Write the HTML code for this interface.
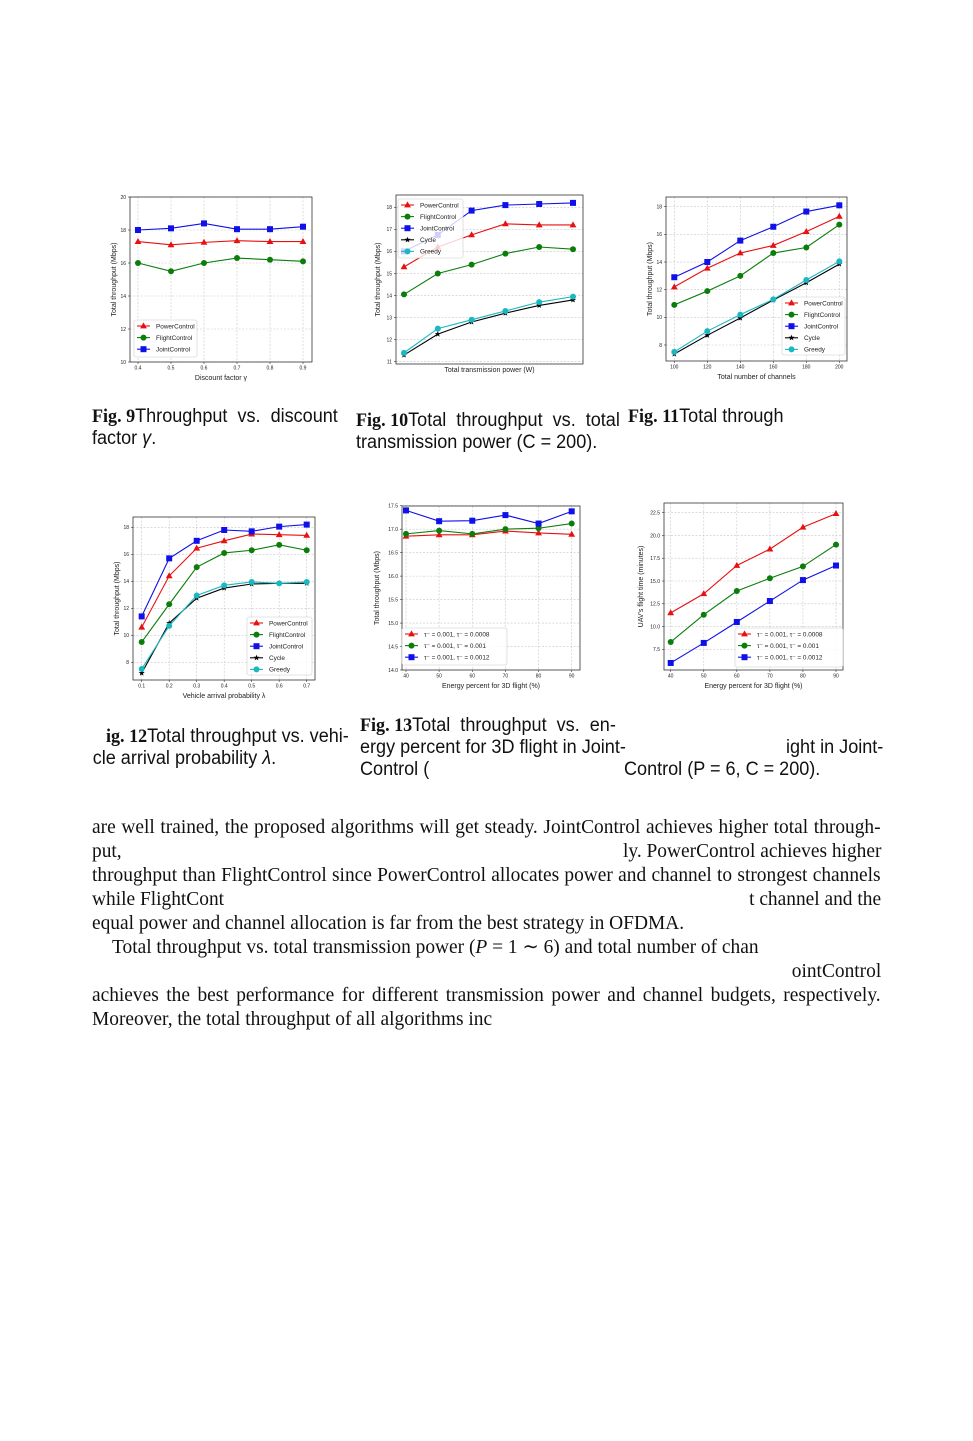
<!DOCTYPE html>
<html><head><meta charset="utf-8"><style>
body{margin:0;background:#fff;width:973px;height:1441px;position:relative;overflow:hidden}
.t{position:absolute;white-space:nowrap;font-family:"Liberation Serif",serif;font-size:20px;color:#111;line-height:24px;transform:scaleX(0.97);transform-origin:left}
.r{transform-origin:right}
.j{width:813px;text-align:justify;text-align-last:justify}
.c{position:absolute;white-space:nowrap;font-family:"Liberation Sans",sans-serif;font-size:19px;color:#111;line-height:22px;transform:scaleX(0.95);transform-origin:left}
.c b{font-family:"Liberation Serif",serif;font-weight:bold}
svg text{font-family:"Liberation Sans",sans-serif;fill:#222}
</style></head><body>
<svg id="figs" width="973" height="1441" style="position:absolute;left:0;top:0"></svg>

<div class="c" style="left:92px;top:406px"><b>Fig. 9</b>Throughput&nbsp; vs.&nbsp; discount<br>factor <i>γ</i>.</div>
<div class="c" style="left:356px;top:410px"><b>Fig. 10</b>Total&nbsp; throughput&nbsp; vs.&nbsp; total<br>transmission power (C = 200).</div>
<div class="c" style="left:628px;top:406px"><b>Fig. 11</b>Total through</div>
<div class="c" style="left:106px;top:726px"><b>ig. 12</b>Total throughput vs. vehi-<br><span style="margin-left:-14px">cle arrival probability <i>λ</i>.</span></div>
<div class="c" style="left:360px;top:715px"><b>Fig. 13</b>Total&nbsp; throughput&nbsp; vs.&nbsp; en-<br>ergy percent for 3D flight in Joint-<br>Control (</div>
<div class="c" style="left:786px;top:737px">ight in Joint-</div>
<div class="c" style="left:624px;top:759px">Control (P = 6, C = 200).</div>

<div class="t j" style="left:92px;top:815px">are well trained, the proposed algorithms will get steady. JointControl achieves higher total through-</div>
<div class="t" style="left:92px;top:839px">put,</div>
<div class="t r" style="right:92px;top:839px">ly. PowerControl achieves higher</div>
<div class="t j" style="left:92px;top:863px">throughput than FlightControl since PowerControl allocates power and channel to strongest channels</div>
<div class="t" style="left:92px;top:887px">while FlightCont</div>
<div class="t r" style="right:92px;top:887px">t channel and the</div>
<div class="t" style="left:92px;top:911px">equal power and channel allocation is far from the best strategy in OFDMA.</div>
<div class="t" style="left:112px;top:935px">Total throughput vs. total transmission power (<i>P</i> = 1 ∼ 6) and total number of chan</div>
<div class="t r" style="right:92px;top:959px">ointControl</div>
<div class="t j" style="left:92px;top:983px">achieves the best performance for different transmission power and channel budgets, respectively.</div>
<div class="t" style="left:92px;top:1007px">Moreover, the total throughput of all algorithms inc</div>

<script>
// ---- data ----
const algNames=["PowerControl","FlightControl","JointControl","Cycle","Greedy"];
const tauNames=["τ⁻ = 0.001, τ⁻ = 0.0008","τ⁻ = 0.001, τ⁻ = 0.001","τ⁻ = 0.001, τ⁻ = 0.0012"];
const f9X=[0.4,0.5,0.6,0.7,0.8,0.9];
const f9Power=[17.3,17.1,17.25,17.35,17.3,17.3];
const f9Flight=[16.0,15.5,16.0,16.3,16.2,16.1];
const f9Joint=[18.0,18.1,18.4,18.05,18.05,18.2];
const f9YTicks=[10,12,14,16,18,20];
const f10X=[1,2,3,4,5,6];
const f10Power=[15.3,16.2,16.75,17.25,17.2,17.2];
const f10Flight=[14.05,15.0,15.4,15.9,16.2,16.1];
const f10Joint=[16.0,16.75,17.85,18.1,18.15,18.2];
const f10Cycle=[11.3,12.25,12.8,13.2,13.55,13.8];
const f10Greedy=[11.4,12.5,12.9,13.3,13.7,13.95];
const f10YTicks=[11,12,13,14,15,16,17,18];
const f11X=[100,120,140,160,180,200];
const f11Power=[12.2,13.55,14.65,15.2,16.2,17.3];
const f11Flight=[10.9,11.9,13.0,14.65,15.05,16.7];
const f11Joint=[12.9,14.0,15.55,16.55,17.65,18.1];
const f11Cycle=[7.35,8.7,9.95,11.25,12.5,13.85];
const f11Greedy=[7.5,9.0,10.2,11.3,12.7,14.05];
const f11YTicks=[8,10,12,14,16,18];
const f12X=[0.1,0.2,0.3,0.4,0.5,0.6,0.7];
const f12Power=[10.6,14.4,16.45,17.0,17.5,17.45,17.4];
const f12Flight=[9.5,12.3,15.05,16.1,16.3,16.7,16.3];
const f12Joint=[11.4,15.7,17.0,17.8,17.7,18.05,18.2];
const f12Cycle=[7.2,10.9,12.75,13.5,13.8,13.85,13.85];
const f12Greedy=[7.5,10.7,12.95,13.7,13.95,13.85,13.95];
const f12YTicks=[8,10,12,14,16,18];
const f13X=[40,50,60,70,80,90];
const f13Red=[16.85,16.88,16.88,16.96,16.92,16.89];
const f13Green=[16.9,16.97,16.9,17.0,17.02,17.12];
const f13Blue=[17.4,17.17,17.18,17.3,17.12,17.38];
const f13YTicks=[14.0,14.5,15.0,15.5,16.0,16.5,17.0,17.5];
const f14X=[40,50,60,70,80,90];
const f14Red=[11.5,13.6,16.7,18.5,20.9,22.4];
const f14Green=[8.3,11.3,13.9,15.3,16.6,19.0];
const f14Blue=[6.0,8.2,10.5,12.8,15.1,16.7];
const f14YTicks=[7.5,10.0,12.5,15.0,17.5,20.0,22.5];

const NS="http://www.w3.org/2000/svg";
const svg=document.getElementById('figs');
function mk(tag,attrs,parent){const e=document.createElementNS(NS,tag);for(const k in attrs)e.setAttribute(k,attrs[k]);(parent||svg).appendChild(e);return e;}
const styles=[{c:"#e81010",m:"tri"},{c:"#0a7d0a",m:"circ"},{c:"#1010e8",m:"sq"},{c:"#000",m:"star"},{c:"#1ab8c0",m:"circ"}];
function marker(g,type,x,y,c){
  let e;
  if(type==="tri"){e=mk('polygon',{points:`${x},${y-3.6} ${x-3.4},${y+2.4} ${x+3.4},${y+2.4}`,fill:c},g);}
  else if(type==="circ"){e=mk('circle',{cx:x,cy:y,r:3,fill:c},g);}
  else if(type==="sq"){e=mk('rect',{x:x-3,y:y-3,width:6,height:6,fill:c},g);}
  else {let p=[];for(let i=0;i<10;i++){const r=i%2?1.3:3.2,a=-Math.PI/2+i*Math.PI/5;p.push((x+r*Math.cos(a)).toFixed(2)+","+(y+r*Math.sin(a)).toFixed(2));}e=mk('polygon',{points:p.join(' '),fill:c},g);}
  
  
}
function chart(o){
  const g=mk('g',{});
  
  
  const sx=v=>o.px0+(v-o.x0)/(o.x1-o.x0)*(o.px1-o.px0);
  const sy=v=>o.py0+(v-o.y0)/(o.y1-o.y0)*(o.py1-o.py0);
  o.yt.forEach(v=>{const y=sy(v);
    const l=mk('line',{x1:o.L,x2:o.R,y1:y,y2:y,stroke:"#c8c8c8","stroke-width":0.6,"stroke-dasharray":"2,1.5"},g);
    
    mk('line',{x1:o.L-2,x2:o.L,y1:y,y2:y,stroke:"#333","stroke-width":0.6},g);
    const t=mk('text',{x:o.L-4,y:y+1.8,"font-size":5,"text-anchor":"end"},g);t.textContent=o.ytf(v);
    });
  o.xs.forEach((v,i)=>{const x=sx(v);
    if(o.vgrid){const l=mk('line',{x1:x,x2:x,y1:o.T,y2:o.B,stroke:"#c8c8c8","stroke-width":0.6,"stroke-dasharray":"2,1.5"},g);
    }
    if(o.xtf){mk('line',{x1:x,x2:x,y1:o.B,y2:o.B+2,stroke:"#333","stroke-width":0.6},g);
    const t=mk('text',{x:x,y:o.B+7.5,"font-size":5,"text-anchor":"middle"},g);t.textContent=o.xtf(v);
    }});
  const fr=mk('rect',{x:o.L,y:o.T,width:o.R-o.L,height:o.B-o.T,fill:"none",stroke:"#333","stroke-width":0.8},g);
  
  o.series.forEach((s,k)=>{const st=styles[o.sty[k]];
    const pl=mk('polyline',{points:s.map((v,i)=>sx(o.xs[i])+","+sy(v)).join(' '),fill:"none",stroke:st.c,"stroke-width":1.1},g);
    
    s.forEach((v,i)=>marker(g,st.m,sx(o.xs[i]),sy(v),st.c));});
  const lg=mk('g',{},g);
  
  mk('rect',{x:o.lg[0],y:o.lg[1],width:o.lg[2],height:o.lg[3],rx:2,fill:"#fff","fill-opacity":0.8,stroke:"#ccc","stroke-width":0.6},lg);
  o.labels.forEach((lab,k)=>{const st=styles[o.sty[k]];const y=o.lg[1]+6+k*11.6;const x=o.lg[0]+3;
    mk('line',{x1:x,x2:x+13,y1:y,y2:y,stroke:st.c,"stroke-width":1.1},lg);
    marker(lg,st.m,x+6.5,y,st.c);
    const t=mk('text',{x:x+19,y:y+2.3,"font-size":6.4},lg);t.textContent=lab;
    });
  const xl=mk('text',{x:(o.L+o.R)/2,y:o.xly,"font-size":7,"text-anchor":"middle"},g);xl.textContent=o.xl;
  
  const yl=mk('text',{x:0,y:0,"font-size":7,"text-anchor":"middle",transform:`translate(${o.ylx},${(o.T+o.B)/2}) rotate(-90)`},g);yl.textContent=o.yl;
  
}
const f1=v=>v.toFixed(1), f0=v=>String(v);
chart({name:"chart-fig9",L:130,R:312,T:197,B:362,x0:0.4,x1:0.9,px0:138,px1:303,y0:10,y1:20,py0:362,py1:197,
  xs:f9X,yt:f9YTicks,ytf:f0,xtf:f1,vgrid:true,series:[f9Power,f9Flight,f9Joint],sty:[0,1,2],labels:algNames.slice(0,3),
  lg:[134,320,63,37],xl:"Discount factor γ",xly:380,yl:"Total throughput (Mbps)",ylx:116});
chart({name:"chart-fig10",L:396,R:583,T:195,B:364,x0:1,x1:6,px0:404,px1:573,y0:11,y1:18,py0:361.7,py1:207.3,
  xs:f10X,yt:f10YTicks,ytf:f0,xtf:null,vgrid:false,series:[f10Power,f10Flight,f10Joint,f10Cycle,f10Greedy],sty:[0,1,2,3,4],labels:algNames,
  lg:[398,199,65,59],xl:"Total transmission power (W)",xly:372,yl:"Total throughput (Mbps)",ylx:380});
chart({name:"chart-fig11",L:666,R:847,T:197,B:361,x0:100,x1:200,px0:674.3,px1:839.3,y0:8,y1:18,py0:345,py1:206.7,
  xs:f11X,yt:f11YTicks,ytf:f0,xtf:f0,vgrid:true,series:[f11Power,f11Flight,f11Joint,f11Cycle,f11Greedy],sty:[0,1,2,3,4],labels:algNames,
  lg:[782,297,63,58],xl:"Total number of channels",xly:379,yl:"Total throughput (Mbps)",ylx:652});
chart({name:"chart-fig12",L:133,R:315,T:517,B:680,x0:0.1,x1:0.7,px0:141.7,px1:306.7,y0:8,y1:18,py0:662.3,py1:527.3,
  xs:f12X,yt:f12YTicks,ytf:f0,xtf:f1,vgrid:true,series:[f12Power,f12Flight,f12Joint,f12Cycle,f12Greedy],sty:[0,1,2,3,4],labels:algNames,
  lg:[247,617,65,58],xl:"Vehicle arrival probability λ",xly:698,yl:"Total throughput (Mbps)",ylx:119});
chart({name:"chart-fig13",L:402,R:580,T:506,B:670,x0:40,x1:90,px0:406,px1:571.7,y0:14,y1:17.5,py0:670,py1:505.7,
  xs:f13X,yt:f13YTicks,ytf:f1,xtf:f0,vgrid:true,series:[f13Red,f13Green,f13Blue],sty:[0,1,2],labels:tauNames,
  lg:[402,628,105,37],xl:"Energy percent for 3D flight (%)",xly:688,yl:"Total throughput (Mbps)",ylx:379});
chart({name:"chart-fig14",L:664,R:843,T:503,B:670,x0:40,x1:90,px0:670.7,px1:836,y0:7.5,y1:22.5,py0:649.3,py1:512.7,
  xs:f14X,yt:f14YTicks,ytf:f1,xtf:f0,vgrid:true,series:[f14Red,f14Green,f14Blue],sty:[0,1,2],labels:tauNames,
  lg:[735,628,108,39],xl:"Energy percent for 3D flight (%)",xly:688,yl:"UAV's flight time (minutes)",ylx:643});
</script>
</body></html>
